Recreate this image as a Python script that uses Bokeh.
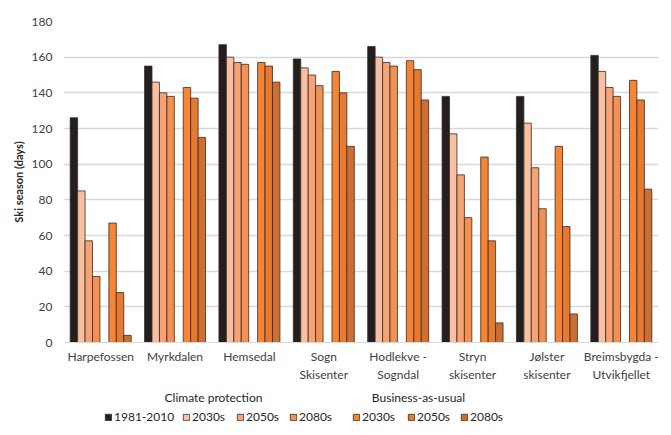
from bokeh.plotting import figure
from bokeh.layouts import column
from bokeh.models import (ColumnDataSource, FactorRange, Range1d, FixedTicker,
                          Legend, LegendItem, Label)
from bokeh.transform import dodge
from bokeh.embed import file_html
from bokeh.resources import INLINE

resorts = ["Harpefossen", "Myrkdalen", "Hemsedal", "Sogn\nSkisenter",
           "Hodlekve -\nSogndal", "Stryn\nskisenter", "Jølster\nskisenter",
           "Breimsbygda -\nUtvikfjellet"]

baseline_1981_2010 = [126, 155, 167, 159, 166, 138, 138, 161]
cp_2030s = [85, 146, 160, 154, 160, 117, 123, 152]
cp_2050s = [57, 140, 157, 150, 157, 94, 98, 143]
cp_2080s = [37, 138, 156, 144, 155, 70, 75, 138]
bau_2030s = [67, 143, 157, 152, 158, 104, 110, 147]
bau_2050s = [28, 137, 155, 140, 153, 57, 65, 136]
bau_2080s = [4, 115, 146, 110, 136, 11, 16, 86]

y_ticks = [0, 20, 40, 60, 80, 100, 120, 140, 160, 180]
group_titles = ["Climate protection", "Business-as-usual"]

series = [
    ("b", baseline_1981_2010, "1981-2010", "#231f20", -0.36),
    ("c1", cp_2030s, "2030s", "#f8c0a0", -0.26),
    ("c2", cp_2050s, "2050s", "#f5a375", -0.16),
    ("c3", cp_2080s, "2080s", "#f39152", -0.06),
    ("u1", bau_2030s, "2030s", "#f58434", 0.16),
    ("u2", bau_2050s, "2050s", "#e67a30", 0.26),
    ("u3", bau_2080s, "2080s", "#cf6e33", 0.36),
]
OUTLINE = "#3b2a22"

data = {"x": resorts}
for key, vals, _, _, _ in series:
    data[key] = vals
src = ColumnDataSource(data)

FONT = "Lato"
TXT = "#262626"

p = figure(x_range=FactorRange(*resorts, range_padding=0),
           y_range=Range1d(0, 180),
           width=664, height=385, output_backend="svg", toolbar_location=None,
           min_border_left=63, min_border_right=6, min_border_top=21,
           min_border_bottom=43)
p.outline_line_color = None

for key, vals, label, color, off in series:
    p.vbar(x=dodge("x", off, range=p.x_range), top=key, width=0.1,
           source=src, fill_color=color, line_color=OUTLINE, line_width=0.8)

p.yaxis.ticker = FixedTicker(ticks=y_ticks)
p.ygrid.grid_line_color = "#d9d9d9"
p.ygrid.grid_line_width = 1.3
p.xgrid.grid_line_color = None
p.yaxis.axis_line_color = None
p.yaxis.major_tick_line_color = None
p.yaxis.minor_tick_line_color = None
p.yaxis.major_tick_out = 0
p.xaxis.major_tick_out = 0
p.xaxis.axis_line_color = "#d9d9d9"
p.xaxis.major_tick_line_color = None
p.yaxis.major_label_text_font = FONT
p.yaxis.major_label_text_font_size = "12px"
p.yaxis.major_label_text_color = "#404040"
p.yaxis.major_label_standoff = 11
p.xaxis.major_label_text_font = FONT
p.xaxis.major_label_text_font_size = "12px"
p.xaxis.major_label_text_color = "#404040"
p.xaxis.major_label_standoff = 6
p.yaxis.axis_label = "Ski season (days)"
p.yaxis.axis_label_text_font = FONT
p.yaxis.axis_label_text_font_style = "bold"
p.yaxis.axis_label_text_font_size = "11px"
p.yaxis.axis_label_text_color = TXT
p.yaxis.axis_label_standoff = 4

# legend strip below the chart
lg_fig = figure(width=664, height=45, x_range=Range1d(0, 1), y_range=Range1d(0, 1),
                output_backend="svg", toolbar_location=None,
                min_border_left=63, min_border_right=6,
                min_border_top=0, min_border_bottom=0)
lg_fig.axis.visible = False
lg_fig.grid.visible = False
lg_fig.outline_line_color = None

# horizontal offset of each legend entry (pixels from the plot area's left edge)
legend_x = [41, 119, 173, 226, 289, 344, 397]

for (key, vals, label, color, off), lx in zip(series, legend_x):
    r = lg_fig.vbar(x=[-10], top=[0], width=0.001, fill_color=color,
                    line_color=OUTLINE, line_width=0.8)
    lg = Legend(items=[LegendItem(label=label, renderers=[r], index=0)],
                location=(lx, 6), padding=0, margin=0, label_standoff=2,
                glyph_width=8, glyph_height=8,
                label_text_font=FONT, label_text_font_size="12px",
                label_text_color=TXT, border_line_color=None,
                background_fill_alpha=0)
    lg_fig.add_layout(lg, "center")

lg_fig.add_layout(Label(x=150, y=33, x_units="screen", y_units="screen",
                        text=group_titles[0], text_align="center", text_baseline="middle",
                        text_font=FONT, text_font_size="12px", text_color=TXT))
lg_fig.add_layout(Label(x=355, y=33, x_units="screen", y_units="screen",
                        text=group_titles[1], text_align="center", text_baseline="middle",
                        text_font=FONT, text_font_size="12px", text_color=TXT))

layout = column(p, lg_fig, spacing=0)
open("out.html", "w").write(file_html(layout, INLINE))
